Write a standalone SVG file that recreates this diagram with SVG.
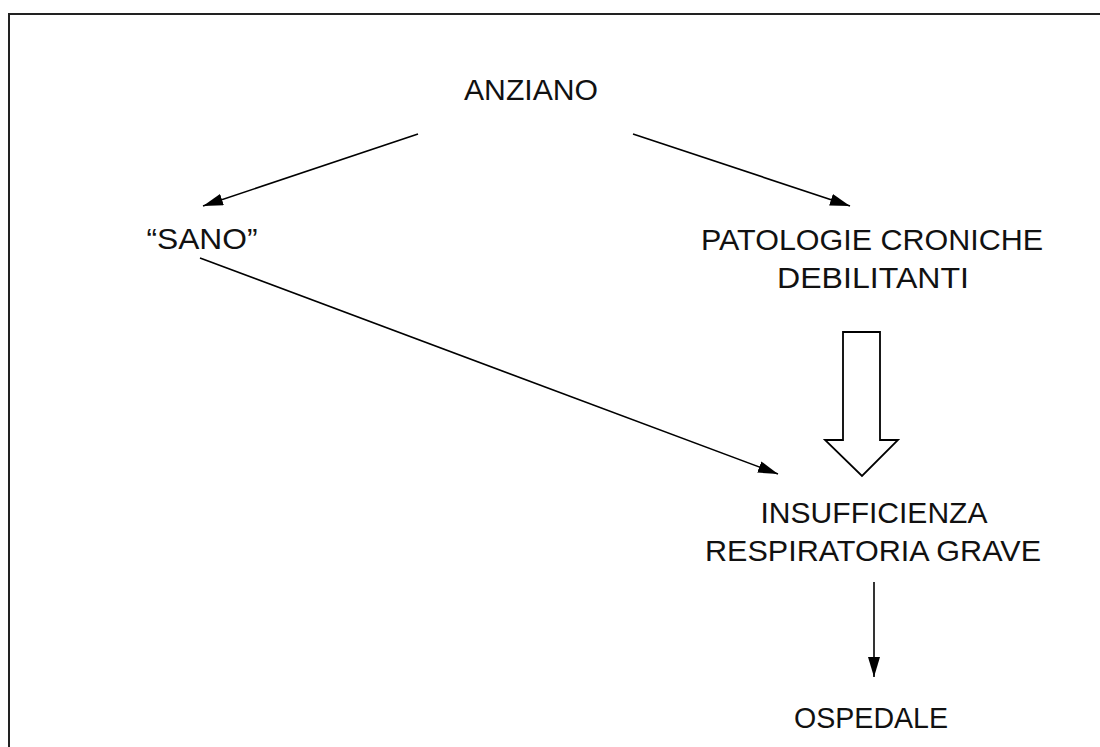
<svg xmlns="http://www.w3.org/2000/svg" width="1100" height="747" viewBox="0 0 1100 747">
<style>
.t{font-family:"Liberation Sans",Arial,sans-serif;font-size:30px;fill:#111;text-anchor:middle}
.c{stroke:#000;stroke-width:1.6;fill:none}
</style>
<defs>
<marker id="ah" viewBox="0 0 20 12" refX="20" refY="6" markerWidth="20" markerHeight="12" markerUnits="userSpaceOnUse" orient="auto">
<path d="M0,0 L20,6 L0,12 Z" fill="#000"/>
</marker>
</defs>
<rect width="1100" height="747" fill="#fff"/>
<rect x="9" y="14" width="1100" height="760" fill="none" stroke="#222" stroke-width="2"/>
<g id="anziano"><text class="t" x="531" y="100" textLength="134" lengthAdjust="spacingAndGlyphs">ANZIANO</text></g>
<g id="sano"><text class="t" x="202" y="249" textLength="111" lengthAdjust="spacingAndGlyphs">“SANO”</text></g>
<g id="patologie"><text class="t" x="872" y="250" textLength="342" lengthAdjust="spacingAndGlyphs">PATOLOGIE CRONICHE</text><text class="t" x="873" y="288" textLength="192" lengthAdjust="spacingAndGlyphs">DEBILITANTI</text></g>
<g id="insufficienza"><text class="t" x="874" y="523" textLength="227" lengthAdjust="spacingAndGlyphs">INSUFFICIENZA</text><text class="t" x="873" y="561" textLength="336" lengthAdjust="spacingAndGlyphs">RESPIRATORIA GRAVE</text></g>
<g id="ospedale"><text class="t" x="871" y="728" textLength="154" lengthAdjust="spacingAndGlyphs">OSPEDALE</text></g>
<g id="connectors">
<line class="c" x1="418" y1="134" x2="203" y2="206" marker-end="url(#ah)"/>
<line class="c" x1="633" y1="134" x2="850" y2="206" marker-end="url(#ah)"/>
<line class="c" x1="200" y1="258" x2="778" y2="474" marker-end="url(#ah)"/>
<line class="c" x1="874" y1="582" x2="874" y2="677" marker-end="url(#ah)"/>
<path d="M843,332 H880 V440 H898 L862,476 L825,440 H843 Z" fill="#fff" stroke="#000" stroke-width="1.8"/>
</g>
</svg>
